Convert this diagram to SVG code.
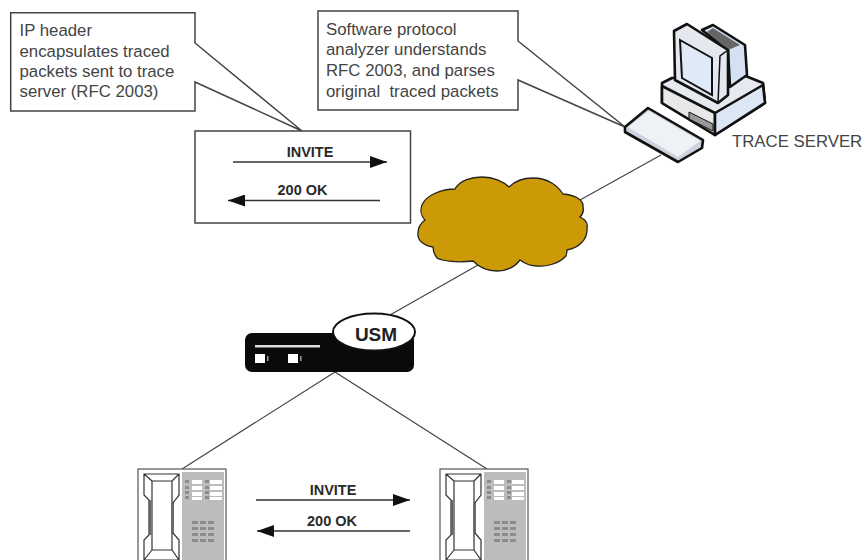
<svg xmlns="http://www.w3.org/2000/svg" width="862" height="560" viewBox="0 0 862 560">
<style>
.t{font-family:"Liberation Sans",Arial,sans-serif;font-size:16.8px;fill:#444;white-space:pre}
.b{font-family:"Liberation Sans",Arial,sans-serif;font-size:14.5px;font-weight:bold;fill:#2a2a2a;text-anchor:middle}
.box{fill:#fff;stroke:#444;stroke-width:1.5}
.ln{fill:none;stroke:#444;stroke-width:1.2}
.ar{fill:none;stroke:#333;stroke-width:1.5}
.k{stroke:#111;stroke-width:2.6;stroke-linejoin:round}
.h{fill:none;stroke:#333;stroke-width:1.2}
</style>
<defs>
<marker id="ah" markerWidth="17" markerHeight="12" refX="17" refY="6" orient="auto-start-reverse" markerUnits="userSpaceOnUse"><path d="M0 0L17 6L0 12z" fill="#111"/></marker>
<g id="phone">
<rect x="0" y="0" width="88" height="92" fill="#fff" stroke="#555" stroke-width="1.200"/>
<rect x="44" y="3" width="42" height="89" fill="#bcbcbc"/>
<path class="h" d="M6 5H41V26L35 34V64L41 71V91H6V71L11 66V31L6 26ZM14 12H34V81H14ZM6 5L14 12M41 5L34 12M6 91L14 81M41 91L34 81"/>
<path d="M12 31V66M34.500 34V64" stroke="#666" stroke-width="2.500" fill="none"/>
<g fill="#fff"><rect x="54" y="11" width="10" height="4"/><rect x="72" y="11" width="12" height="4"/><rect x="54" y="17" width="10" height="4"/><rect x="72" y="17" width="12" height="4"/><rect x="54" y="23" width="10" height="4"/><rect x="72" y="23" width="12" height="4"/><rect x="54" y="28" width="10" height="3"/><rect x="72" y="28" width="12" height="3"/></g>
<g fill="#8c8c8c"><rect x="47" y="11" width="4" height="3"/><rect x="67" y="11" width="4" height="3"/><rect x="47" y="17" width="4" height="3"/><rect x="67" y="17" width="4" height="3"/><rect x="47" y="22" width="4" height="3"/><rect x="67" y="22" width="4" height="3"/><rect x="47" y="27" width="4" height="3"/><rect x="67" y="27" width="4" height="3"/>
<rect x="54" y="52" width="6" height="3"/><rect x="62" y="52" width="6" height="3"/><rect x="70" y="52" width="6" height="3"/><rect x="54" y="58" width="6" height="3"/><rect x="62" y="58" width="6" height="3"/><rect x="70" y="58" width="6" height="3"/><rect x="54" y="64" width="6" height="3"/><rect x="62" y="64" width="6" height="3"/><rect x="70" y="64" width="6" height="3"/><rect x="54" y="70" width="6" height="3"/><rect x="62" y="70" width="6" height="3"/><rect x="70" y="70" width="6" height="3"/></g>
</g>
</defs>
<g id="connectors">
<path class="ln" d="M580 200L661 155"/>
<path class="ln" d="M478 265L390 315"/>
<path class="ln" d="M335 372L182 469"/>
<path class="ln" d="M335 372L487 469"/>
</g>
<g id="callout-ip">
<path class="box" d="M10.700 12.700H195V43L302 131L195 82V111H10.700Z"/>
<text class="t" x="19.500" y="36">IP header</text>
<text class="t" x="19.500" y="57">encapsulates traced</text>
<text class="t" x="19.500" y="77">packets sent to trace</text>
<text class="t" x="19.500" y="97">server (RFC 2003)</text>
</g>
<g id="callout-analyzer">
<path class="box" d="M318 11H518V41L625 127L518 80V110H318Z"/>
<text class="t" x="326" y="35">Software protocol</text>
<text class="t" x="326" y="55">analyzer understands</text>
<text class="t" x="326" y="76">RFC 2003, and parses</text>
<text class="t" x="326" y="97">original  traced packets</text>
</g>
<g id="packet-box">
<rect class="box" x="195" y="131" width="215.500" height="92"/>
<text class="b" x="310" y="157">INVITE</text>
<path class="ar" d="M233 162H387" marker-end="url(#ah)"/>
<text class="b" x="302.500" y="195">200 OK</text>
<path class="ar" d="M380 200.500H228" marker-end="url(#ah)"/>
</g>
<g id="trace-server">
<path d="M662 83L672 78L743 75L763 83L765 103L715 135L662 103Z" fill="#e6e9f0" class="k"/>
<path d="M662 86L715 113V135L662 103Z" fill="#e8e8e8" class="k"/>
<path d="M715 113L763 85L765 103L715 135Z" fill="#dde6f5" class="k"/>
<path d="M702 30L713 25L745 45L747 75L730 87L728 50Z" fill="#d5e0f2" class="k"/>
<path d="M707 32L713 28L740 45L728 50Z" fill="#666"/>
<path d="M674 31L687 24L728 50V95L718 103L675 80Z" fill="#e4e8ef" class="k"/>
<path d="M718 103L720 56L728 50" fill="none" stroke="#111" stroke-width="1.500"/>
<path d="M680 40L712 58V95L682 78Z" fill="#e0e9f7" stroke="#111" stroke-width="2"/>
<path d="M689 112L713 124V131L689 119Z" fill="#999" stroke="#111"/>
<path d="M625 127L648 108L703 140L702 148L678 162L625 132Z" fill="#cdd3de" class="k"/>
<path d="M628 127L649 111L700 141L678 157Z" fill="#eef1f6"/>
<text x="732" y="147" font-family="Liberation Sans,Arial,sans-serif" font-size="16.800" fill="#444">TRACE SERVER</text>
</g>
<g id="cloud">
<path d="M422 205C426 195 442 189 455 189C460 180 472 177 482 177C494 177 504 182 509 187C516 180 524 178 533 178C548 178 558 186 563 194C575 195 584 200 583 207C584 211 582 215 580 217C586 220 588 224 587 228C588 240 578 248 567 250C567 254 566 256 565 257C558 264 545 267 537 266C530 266 524 263 520 260C514 268 505 271 497 271C486 271 478 266 473 261C458 263 442 261 437 258C434 254 433 250 433 247C424 246 417 240 418 233C418 227 421 223 425 220C421 216 420 210 422 205Z" fill="#cc9a06" stroke="#222" stroke-width="1.300"/>
</g>
<g id="usm">
<rect x="245" y="333" width="169" height="39" rx="7" fill="#0a0a0a"/>
<ellipse cx="374" cy="332" rx="41" ry="18.500" fill="#fff" stroke="#111" stroke-width="2"/>
<rect x="255" y="345" width="65" height="2.500" fill="#ddd"/>
<rect x="255" y="354" width="10" height="9" fill="#fff"/>
<rect x="288" y="354" width="10" height="9" fill="#fff"/>
<rect x="267" y="356" width="1.500" height="5" fill="#999"/>
<rect x="300" y="356" width="1.500" height="5" fill="#999"/>
<text x="376" y="341" text-anchor="middle" font-family="Liberation Sans,Arial,sans-serif" font-size="19" font-weight="bold" fill="#222">USM</text>
</g>
<g id="phone-left"><use href="#phone" x="138" y="469"/></g>
<g id="phone-right"><use href="#phone" x="440" y="469"/></g>
<g id="call-flow">
<text class="b" x="333" y="495">INVITE</text>
<path class="ar" d="M256 500H410" marker-end="url(#ah)"/>
<text class="b" x="332" y="526">200 OK</text>
<path class="ar" d="M410 531H257" marker-end="url(#ah)"/>
</g>
</svg>
